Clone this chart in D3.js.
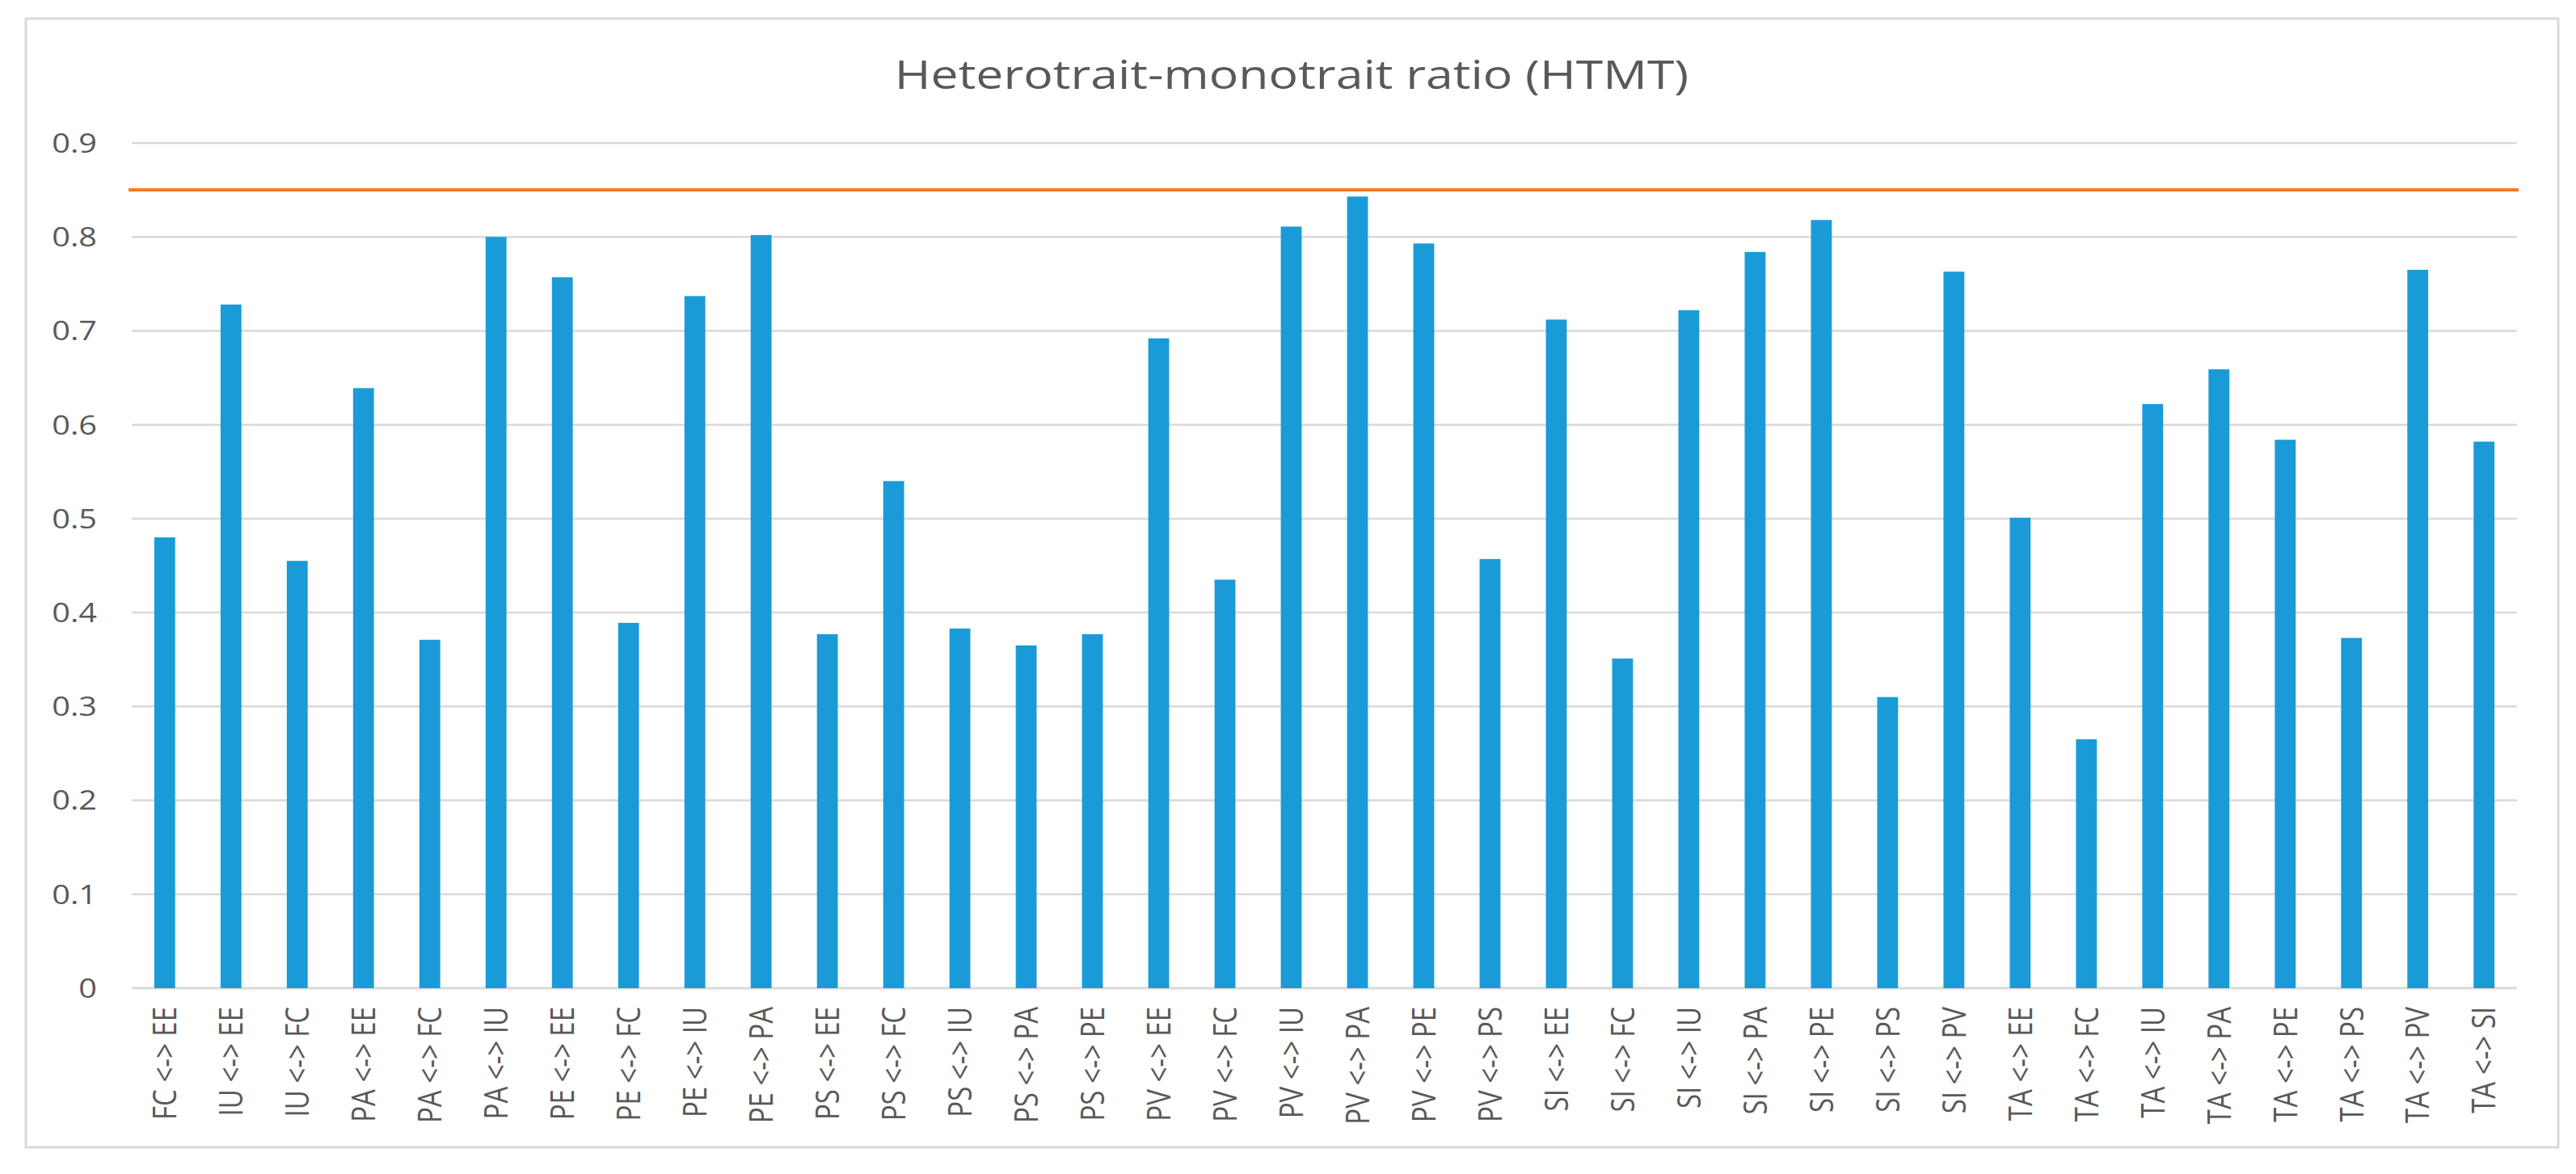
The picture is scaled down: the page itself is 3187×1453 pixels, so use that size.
<!DOCTYPE html>
<html>
<head>
<meta charset="utf-8">
<script src="https://cdn.jsdelivr.net/npm/d3@7"></script>
<style>
  html, body { margin: 0; padding: 0; background: #ffffff; }
  svg { display: block; }
</style>
</head>
<body>
<script>
const categories = [
  "FC <-> EE","IU <-> EE","IU <-> FC","PA <-> EE","PA <-> FC","PA <-> IU",
  "PE <-> EE","PE <-> FC","PE <-> IU","PE <-> PA","PS <-> EE","PS <-> FC",
  "PS <-> IU","PS <-> PA","PS <-> PE","PV <-> EE","PV <-> FC","PV <-> IU",
  "PV <-> PA","PV <-> PE","PV <-> PS","SI <-> EE","SI <-> FC","SI <-> IU",
  "SI <-> PA","SI <-> PE","SI <-> PS","SI <-> PV","TA <-> EE","TA <-> FC",
  "TA <-> IU","TA <-> PA","TA <-> PE","TA <-> PS","TA <-> PV","TA <-> SI"
];
const htmtValues = [
  0.480, 0.728, 0.455, 0.639, 0.371, 0.800,
  0.757, 0.389, 0.737, 0.802, 0.377, 0.540,
  0.383, 0.365, 0.377, 0.692, 0.435, 0.811,
  0.843, 0.793, 0.457, 0.712, 0.351, 0.722,
  0.784, 0.818, 0.310, 0.763, 0.501, 0.265,
  0.622, 0.659, 0.584, 0.373, 0.765, 0.582
];
const yTicks = [0, 0.1, 0.2, 0.3, 0.4, 0.5, 0.6, 0.7, 0.8, 0.9];
const threshold = [0.85];
const title = "Heterotrait-monotrait ratio (HTMT)";

const W = 3187, H = 1453;
const plot = { left: 163, right: 3114, top: 177, bottom: 1223 };
const stretch = 1.2;
const textColor = "#595959";
const fontFam = "'Open Sans', 'Noto Sans', sans-serif";

const svg = d3.select("body").append("svg")
  .attr("width", W).attr("height", H);

svg.append("rect").attr("width", W).attr("height", H).attr("fill", "#fff");

// outer border
svg.append("rect")
  .attr("x", 32).attr("y", 23)
  .attr("width", 3165 - 32).attr("height", 1420 - 23)
  .attr("fill", "none").attr("stroke", "#d9d9d9").attr("stroke-width", 3);

const x = d3.scaleBand().domain(categories)
  .range([plot.left, plot.right]).paddingInner(0.685).paddingOuter(0.34);
const y = d3.scaleLinear().domain([0, 0.9]).range([plot.bottom, plot.top]);

// gridlines
svg.append("g").selectAll("line").data(yTicks).join("line")
  .attr("x1", plot.left).attr("x2", plot.right)
  .attr("y1", d => y(d)).attr("y2", d => y(d))
  .attr("stroke", "#d9d9d9").attr("stroke-width", d => d === 0 ? 3 : 2.5);

// y tick labels
svg.append("g").selectAll("text").data(yTicks).join("text")
  .attr("transform", d => `translate(120,${y(d)}) scale(${stretch},1)`)
  .attr("text-anchor", "end").attr("dy", "0.36em")
  .attr("font-family", fontFam).attr("font-size", 33)
  .attr("fill", textColor)
  .text(d => d3.format("")(d));

// bars
svg.append("g").selectAll("rect").data(htmtValues).join("rect")
  .attr("x", (d, i) => x(categories[i]))
  .attr("width", x.bandwidth())
  .attr("y", d => y(d))
  .attr("height", d => y(0) - y(d))
  .attr("fill", "#1a9bd8");

// threshold line
svg.append("g").selectAll("line").data(threshold).join("line")
  .attr("x1", plot.left - 4).attr("x2", plot.right + 2)
  .attr("y1", d => y(d)).attr("y2", d => y(d))
  .attr("stroke", "#f47a20").attr("stroke-width", 4);

// x labels
svg.append("g").selectAll("text").data(categories).join("text")
  .attr("transform", d => `translate(${x(d) + x.bandwidth() / 2},1246) scale(${stretch},1) rotate(-90)`)
  .attr("text-anchor", "end").attr("dy", "0.36em")
  .attr("font-family", fontFam).attr("font-size", 33)
  .attr("fill", textColor)
  .text(d => d);

// title
svg.append("text")
  .attr("transform", `translate(1598,110) scale(1.24,1)`)
  .attr("text-anchor", "middle")
  .attr("font-family", fontFam).attr("font-size", 49)
  .attr("fill", textColor)
  .text(title);
</script>
</body>
</html>
